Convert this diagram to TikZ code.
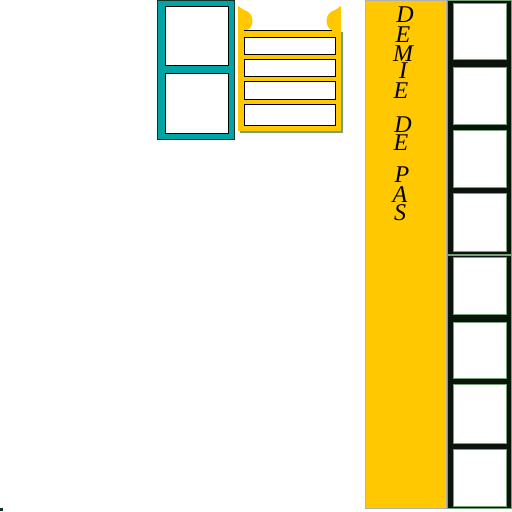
\documentclass[tikz,border=0pt]{standalone}
\usepackage{fontspec}
\setmainfont{Liberation Serif}
\definecolor{teal1}{RGB}{0,164,164}
\definecolor{gold}{RGB}{255,200,0}
\definecolor{frameblk}{RGB}{10,20,10}
\definecolor{paneedge}{RGB}{120,160,120}
\definecolor{darkedge}{RGB}{20,50,40}
\tikzset{
  pane/.style={fill=white,draw=black,line width=1pt},
  rpane/.style={fill=white,draw=paneedge,line width=0.8pt},
  letter/.style={anchor=base,inner sep=0pt,text height=15pt,text depth=0pt,font=\fontsize{24}{24}\selectfont\itshape}
}
\begin{document}
\begin{tikzpicture}[x=1pt,y=-1pt]
\useasboundingbox (0,0) rectangle (512,512);
\fill[white] (0,0) rectangle (512,512);
% teal double window
\draw[fill=teal1,draw=darkedge,line width=1pt] (157.5,0) rectangle (234,139);
\draw[pane] (165,6) rectangle (228,65);
\draw[pane] (165,73) rectangle (228,133);
% yellow shutter
\fill[paneedge] (240,32) rectangle (343,133);
\fill[gold] (238,30) rectangle (341,131);
\fill[gold] (238,6) -- (244,10) .. controls (255,13) and (255,27) .. (246,31) -- (238,31) -- cycle;
\fill[gold] (341,6) -- (335,10) .. controls (324,13) and (324,27) .. (333,31) -- (341,31) -- cycle;
\draw[black,line width=1pt] (244,30.5) -- (332,30.5);
\draw[pane] (244,37) rectangle (335,54);
\draw[pane] (244,59) rectangle (335,76);
\draw[pane] (244,81) rectangle (335,99);
\draw[pane] (244,104) rectangle (335,125);
% yellow column
\draw[fill=gold,draw=gray!60,line width=0.6pt] (365,0) rectangle (446,508);
\node[letter] (l1) at (405,22) {D};
\node[letter] (l2) at (403,42) {E};
\node[letter] (l3) at (403,61) {M};
\node[letter] (l4) at (403,78) {I};
\node[letter] (l5) at (401,98) {E};
\node[letter] (l6) at (403,132) {D};
\node[letter] (l7) at (401,150) {E};
\node[letter] (l8) at (402,182) {P};
\node[letter] (l9) at (400,202) {A};
\node[letter] (l10) at (400,220) {S};
% right window column
\draw[fill=frameblk,draw=paneedge,line width=1pt] (447,0) rectangle (511,254);
\draw[rpane] (453,3) rectangle (506,59);
\draw[rpane] (453,67) rectangle (506,124);
\draw[rpane] (453,130) rectangle (506,187);
\draw[rpane] (453,193) rectangle (506,251);
\draw[fill=frameblk,draw=paneedge,line width=1pt] (447,255) rectangle (511,508);
\draw[rpane] (453,257) rectangle (506,314);
\draw[rpane] (453,322) rectangle (506,378);
\draw[rpane] (453,384) rectangle (506,443);
\draw[rpane] (453,449) rectangle (506,506);
% small dot
\fill[darkedge] (0,508) rectangle (3,511);
\end{tikzpicture}
\end{document}
